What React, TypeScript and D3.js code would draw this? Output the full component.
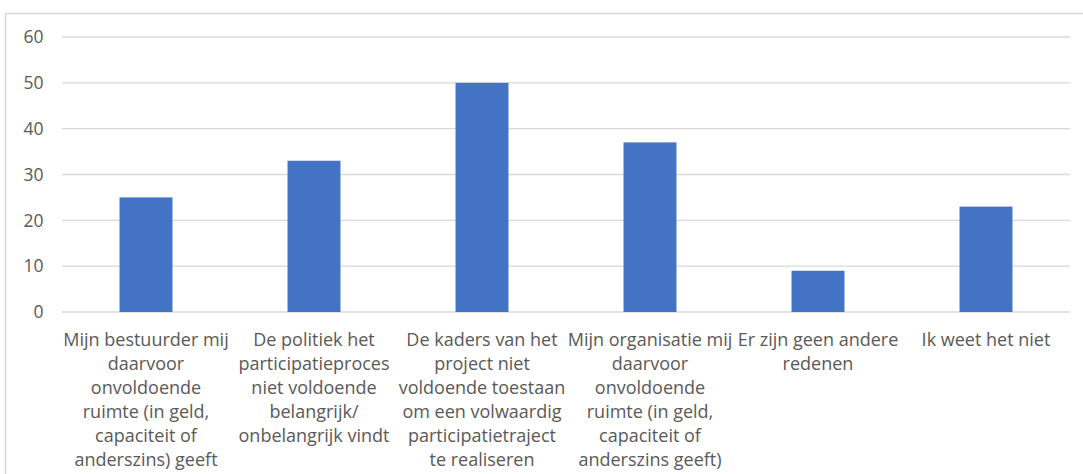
import React from "react";
import * as d3 from "d3";

const categories: string[][] = [
  ["Mijn bestuurder mij", "daarvoor", "onvoldoende", "ruimte (in geld,", "capaciteit of", "anderszins) geeft"],
  ["De politiek het", "participatieproces", "niet voldoende", "belangrijk/", "onbelangrijk vindt"],
  ["De kaders van het", "project niet", "voldoende toestaan", "om een volwaardig", "participatietraject", "te realiseren"],
  ["Mijn organisatie mij", "daarvoor", "onvoldoende", "ruimte (in geld,", "capaciteit of", "anderszins geeft)"],
  ["Er zijn geen andere", "redenen"],
  ["Ik weet het niet"],
];
const values: number[] = [25, 33, 50, 37, 9, 23];
const yTicks: number[] = [0, 10, 20, 30, 40, 50, 60];

const W = 1083;
const H = 474;
const left = 62;
const right = 1070;
const top = 37;
const bottom = 312;
const FONT = "'Open Sans', sans-serif";

export default function App() {
  const idx = categories.map((_, i) => String(i));
  const x = d3.scaleBand<string>().domain(idx).range([left, right]).paddingInner(0.685).paddingOuter(0.3425);
  const y = d3.scaleLinear().domain([0, 60]).range([bottom, top]);

  return (
    <svg width={W} height={H} style={{ position: "absolute", left: 0, top: 0, background: "#fff" }}>
      <rect x={5.5} y={13.5} width={W + 10} height={H + 10} fill="#fff" stroke="#d9d9d9" strokeWidth={1.5} />
      {yTicks.map((t) => (
        <g key={t}>
          <line x1={left} x2={right} y1={y(t)} y2={y(t)} stroke="#d9d9d9" strokeWidth={1.3} />
          <text x={43.5} y={y(t)} dy="0.36em" textAnchor="end" fontSize={17.5} fill="#595959" fontFamily={FONT}>
            {t}
          </text>
        </g>
      ))}
      {values.map((v, i) => (
        <rect key={i} x={x(String(i))!} y={y(v)} width={x.bandwidth()} height={y(0) - y(v)} fill="#4472c4" />
      ))}
      {categories.map((lines, i) => {
        const cx = (x(String(i)) ?? 0) + x.bandwidth() / 2;
        return (
          <text key={i} textAnchor="middle" fontSize={18} fill="#595959" fontFamily={FONT}>
            {lines.map((l, j) => (
              <tspan key={j} x={cx} y={346 + j * 24}>
                {l}
              </tspan>
            ))}
          </text>
        );
      })}
    </svg>
  );
}
